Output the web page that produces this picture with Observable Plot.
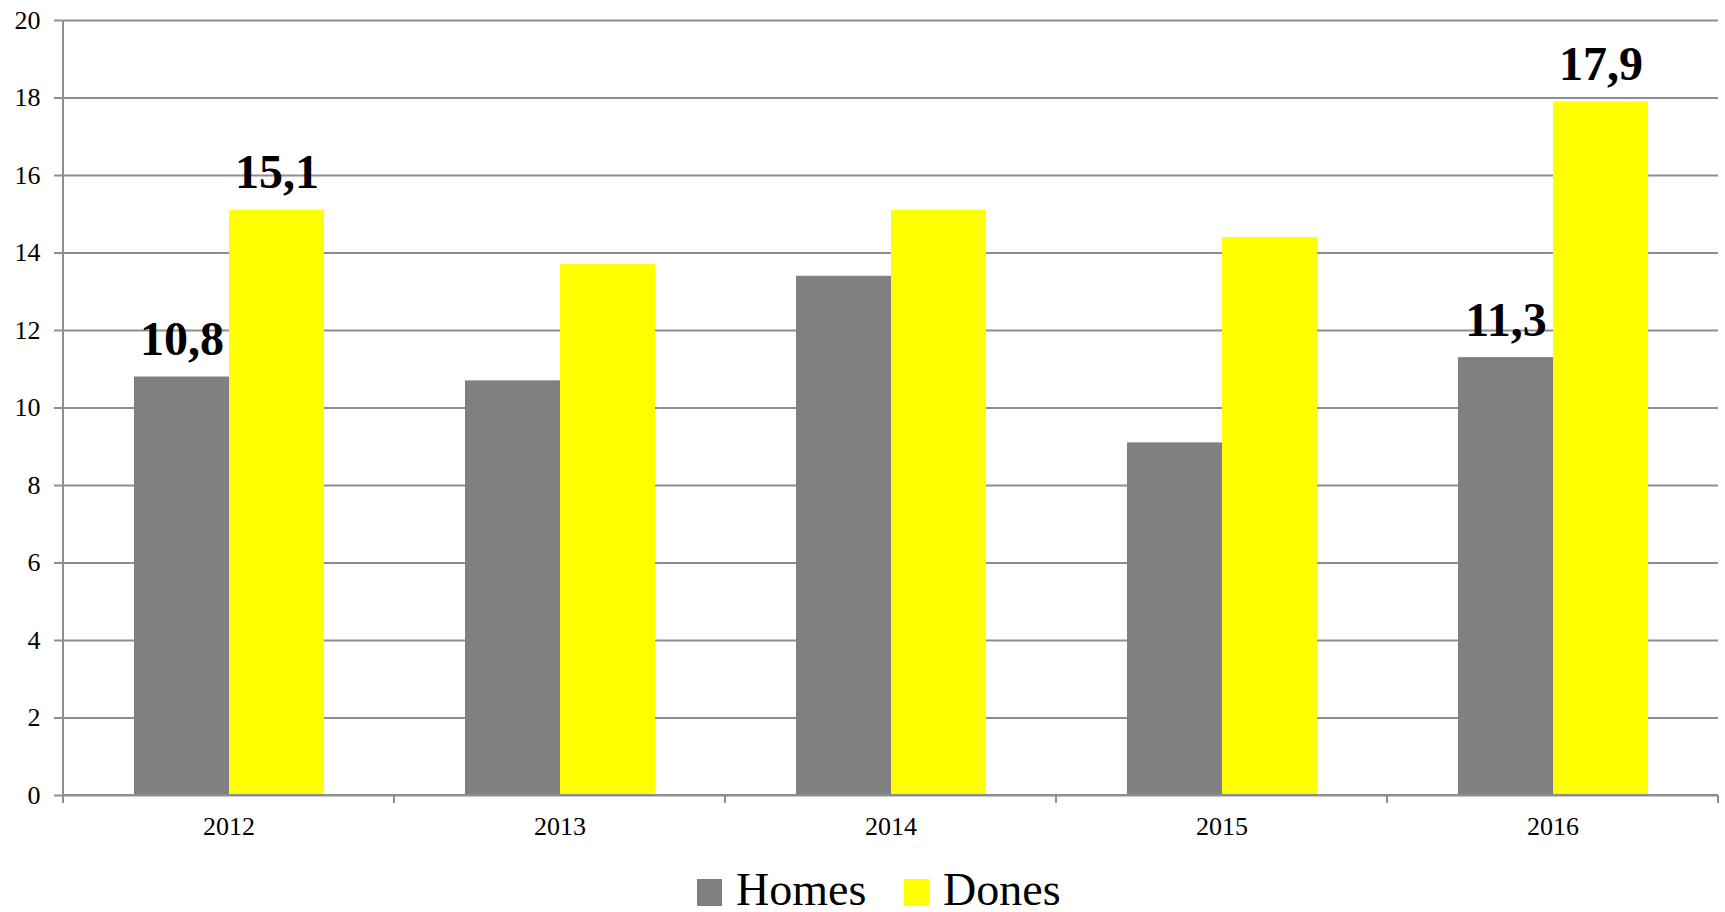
<!DOCTYPE html>
<html>
<head>
<meta charset="utf-8">
<script src="https://cdn.jsdelivr.net/npm/d3@7"></script>
<script src="https://cdn.jsdelivr.net/npm/@observablehq/plot@0.6"></script>
<style>
  html, body { margin: 0; padding: 0; background: #fff; overflow: hidden; }
  #chart svg { display: block; }
  .legend { position: relative; height: 62px; font-family: "Liberation Serif", "Times New Roman", serif; font-size: 46px; color: #000; }
  .legend .item { position: absolute; top: 20px; display: flex; align-items: flex-end; line-height: 40px; height: 40px; }
  .legend .sw { width: 25px; height: 27px; margin-right: 14px; margin-bottom: 4px; }
</style>
</head>
<body>
<div id="chart"></div>
<div class="legend" id="legend"></div>
<script>
const years = ["2012", "2013", "2014", "2015", "2016"];
const series = ["Homes", "Dones"];
const homes = [10.8, 10.7, 13.4, 9.1, 11.3];
const dones = [15.1, 13.7, 15.1, 14.4, 17.9];
const labeledYears = ["2012", "2016"];
const colors = ["#808080", "#ffff00"];
const yTicks = [0, 2, 4, 6, 8, 10, 12, 14, 16, 18, 20];

const data = [];
years.forEach((y, i) => {
  data.push({year: y, series: "Homes", value: homes[i]});
  data.push({year: y, series: "Dones", value: dones[i]});
});
const fmt = v => v.toFixed(1).replace(".", ",");
const gridColor = "#8e8e8e";

const W = 1725, H = 850;
const chart = Plot.plot({
  width: W,
  height: H,
  marginTop: 20,
  marginBottom: 55,
  marginLeft: 62,
  marginRight: 6,
  style: {fontFamily: "'Liberation Serif', 'Times New Roman', serif", background: "#fff", color: "#000"},
  fx: {domain: years, padding: 0, label: null},
  x: {domain: series, paddingInner: 0, paddingOuter: 0.74, axis: null},
  y: {domain: [0, 20], label: null},
  color: {domain: series, range: colors},
  marks: [
    Plot.ruleY(yTicks, {stroke: gridColor, strokeWidth: 2}),
    Plot.barY(data, {fx: "year", x: "series", y: "value", fill: "series"}),
    Plot.text(data.filter(d => labeledYears.includes(d.year)), {
      fx: "year", x: "series", y: "value", text: d => fmt(d.value),
      lineAnchor: "bottom", dy: -22, fontSize: 48, fontWeight: "bold", fill: "#000"
    }),
    Plot.axisY(yTicks, {anchor: "left", tickSize: 9, tickPadding: 14, fontSize: 26, stroke: gridColor, strokeWidth: 2, strokeOpacity: 1, label: null, fill: "#000"}),
    Plot.axisFx({anchor: "bottom", tickSize: 0, tickPadding: 21, fontSize: 26, label: null, fill: "#000"})
  ]
});
document.getElementById("chart").appendChild(chart);

// baseline, left axis line and category boundary ticks from the library's scales
const fx = chart.scale("fx");
const yS = chart.scale("y");
const svg = d3.select(chart);
const y0 = yS.apply(0), yTop = yS.apply(20);
const bounds = years.map(y => fx.apply(y));
bounds.push(fx.apply(years[years.length - 1]) + fx.bandwidth);
const g = svg.append("g").attr("stroke", gridColor).attr("stroke-width", 2);
g.append("line").attr("x1", bounds[0]).attr("x2", bounds[bounds.length - 1]).attr("y1", y0).attr("y2", y0);
g.append("line").attr("x1", bounds[0]).attr("x2", bounds[0]).attr("y1", yTop).attr("y2", y0 + 8);
bounds.forEach(b => g.append("line").attr("x1", b).attr("x2", b).attr("y1", y0).attr("y2", y0 + 8));

// legend
const legend = document.getElementById("legend");
const lefts = [697, 904];
series.forEach((s, i) => {
  const it = document.createElement("div");
  it.className = "item";
  it.style.left = lefts[i] + "px";
  it.innerHTML = `<span class="sw" style="background:${colors[i]}"></span><span>${s}</span>`;
  legend.appendChild(it);
});
</script>
</body>
</html>
